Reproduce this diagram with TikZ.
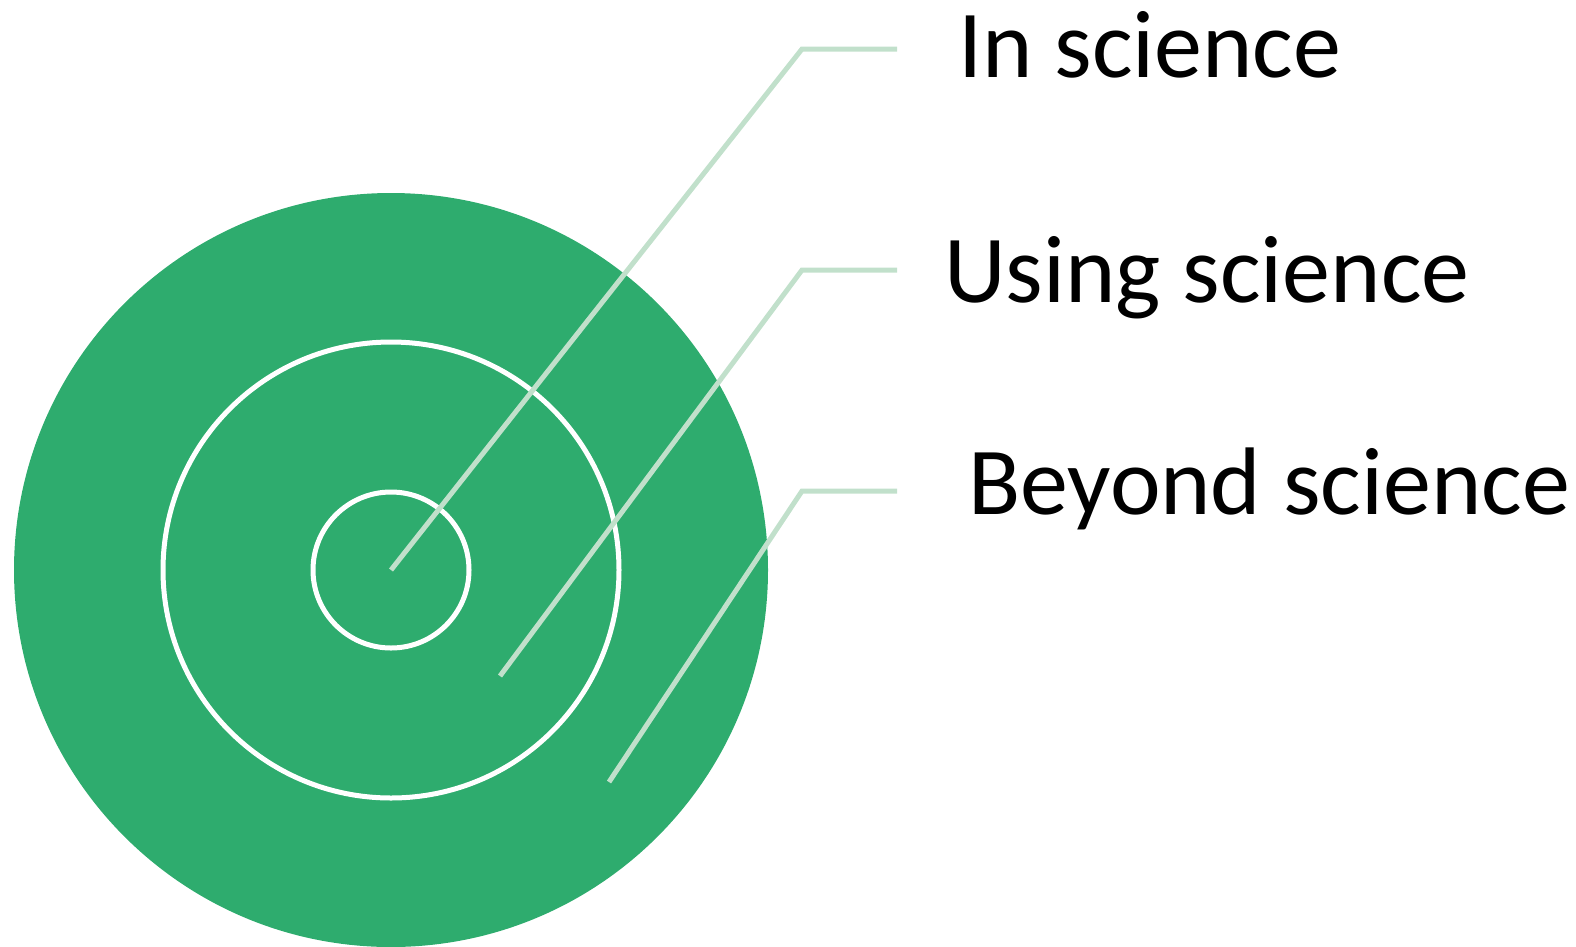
\documentclass[tikz,border=0pt]{standalone}
\usepackage{fontspec}
\setmainfont{Carlito}
\definecolor{ringgreen}{HTML}{2EAC6E}
\definecolor{leadergreen}{HTML}{C1E0CB}
\begin{document}
\begin{tikzpicture}[x=1pt, y=-1pt,
ring/.style={draw=white, line width=5pt},
leader/.style={draw=leadergreen, line width=5pt},
tagtext/.style={anchor=base west, inner sep=0pt, font=\fontsize{96}{110}\selectfont}]
\useasboundingbox (0,0) rectangle (1576,946);
% rings
\fill[ringgreen] (391,570) circle (377pt);
\draw[ring] (391,570) circle (228pt);
\draw[ring] (391,570) circle (78pt);
% leader ends
\coordinate (in start) at (391,570);
\coordinate (in bend) at (802,49);
\coordinate (in end) at (897,49);
\coordinate (using start) at (500,676);
\coordinate (using bend) at (802,270);
\coordinate (using end) at (897,270);
\coordinate (beyond start) at (609,782);
\coordinate (beyond bend) at (802,491);
\coordinate (beyond end) at (897,491);
% labels
\node[tagtext] (in) at (958,77) {In science};
\node[tagtext] (using) at (944,302) {Using science};
\node[tagtext] (beyond) at (968,514) {Beyond science};
\draw[leader] (in start) -- (in bend) -- (in end);
\draw[leader] (using start) -- (using bend) -- (using end);
\draw[leader] (beyond start) -- (beyond bend) -- (beyond end);
\end{tikzpicture}
\end{document}
